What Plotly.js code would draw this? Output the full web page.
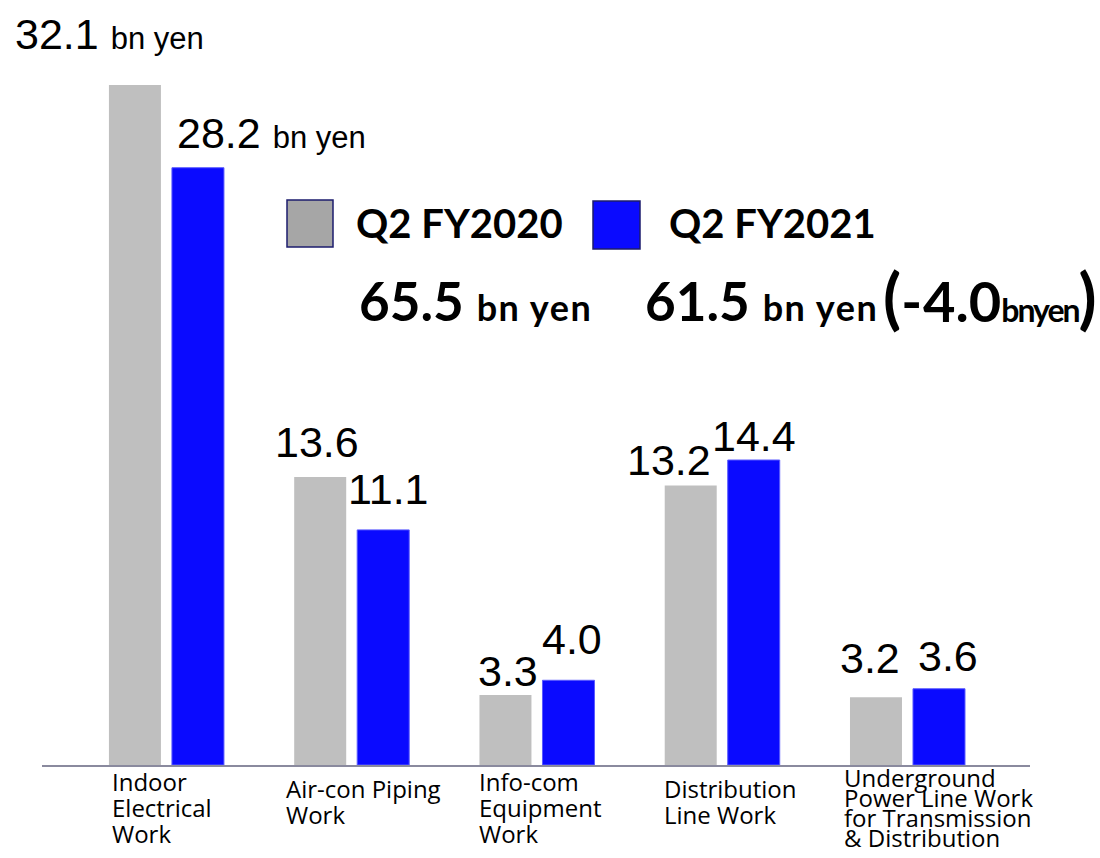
<!DOCTYPE html>
<html>
<head>
<meta charset="utf-8">
<script src="https://cdn.plot.ly/plotly-3.0.1.min.js"></script>
<style>
  html, body { margin: 0; padding: 0; background: #ffffff; }
  #chart { width: 1100px; height: 858px; }
</style>
</head>
<body>
<div id="chart"></div>
<script>
// ---------------- data ----------------
const categories = [
  "Indoor<br>Electrical<br>Work",
  "Air-con Piping<br>Work",
  "Info-com<br>Equipment<br>Work",
  "Distribution<br>Line Work",
  "Underground<br>Power Line Work<br>for Transmission<br>& Distribution"
];
const seriesNames = ["Q2 FY2020", "Q2 FY2021"];
const fy2020 = [32.1, 13.6, 3.3, 13.2, 3.2];
const fy2021 = [28.2, 11.1, 4.0, 14.4, 3.6];
const totals = [65.5, 61.5];
const totalChange = -4.0;
const unitText = "bn yen";

// ---------------- layout geometry ----------------
const PLOT_L = 42, PLOT_R = 1030, PLOT_B = 765, PLOT_T = 0;
const pxX = px => (px - PLOT_L) / (PLOT_R - PLOT_L);
const pxY = py => (PLOT_B - py) / (PLOT_B - PLOT_T);

const BAR_W = 0.2807;
const OFF_GRAY = -0.3077;
const OFF_BLUE = 0.0324;
const idx = categories.map((_, i) => i);

const GRAY = "#BFBFBF";
const BLUE = "#0A0AFF";

const traces = [
  {
    type: "bar", name: seriesNames[0], x: idx, y: fy2020,
    width: BAR_W, offset: OFF_GRAY,
    marker: { color: GRAY, line: { width: 0 } },
    hoverinfo: "skip"
  },
  {
    type: "bar", name: seriesNames[1], x: idx, y: fy2021,
    width: BAR_W, offset: OFF_BLUE,
    marker: { color: BLUE, line: { width: 1, color: "#5a5aff" } },
    hoverinfo: "skip"
  }
];

const annotations = [];

// value labels
const NUM_FONT = "Liberation Sans, Arial, sans-serif";
const NUM_SIZE = 43, UNIT_SIZE = 31;
const NUM_DESC = 0.212 * NUM_SIZE + 2;
const labelStyle = [
  { anchor: ["left", "center", "center", "center", "center"],
    xshift: [-121, -3, 3, -22, -6],
    dy: [37, 21, 10, 12, 25] },
  { anchor: ["left", "center", "center", "center", "center"],
    xshift: [-22, 5.5, 3.5, 0.5, 9.5],
    dy: [21, 27, 27, 10, 19] }
];
[fy2020, fy2021].forEach((vals, s) => {
  const center = (s === 0 ? OFF_GRAY : OFF_BLUE) + BAR_W / 2;
  vals.forEach((v, i) => {
    const st = labelStyle[s];
    let txt = v.toFixed(1);
    if (i === 0) {
      txt = '<span style="font-size:' + NUM_SIZE + 'px">' + v.toFixed(1) + ' </span>' +
            '<span style="font-size:' + UNIT_SIZE + 'px">' + unitText + '</span>';
    }
    annotations.push({
      xref: "x", yref: "y", x: i + center, y: v,
      xanchor: st.anchor[i], yanchor: "bottom",
      xshift: st.xshift[i], yshift: st.dy[i] - NUM_DESC,
      text: txt, showarrow: false, borderpad: 0,
      font: { family: NUM_FONT, size: NUM_SIZE, color: "#000000" }
    });
  });
});

// category labels (one annotation per line to control leading)
const CAT_FONT = "Open Sans, sans-serif";
const CAT_SIZE = 24;
const CAT_DESC = 0.293 * CAT_SIZE;
const catLeft = [112, 286, 479, 664, 844];
const catBase = [792, 799, 792, 799, 788];
const catLead = [26, 26, 26, 26, 20];
categories.forEach((c, i) => {
  c.split("<br>").forEach((line, k) => {
    const base = catBase[i] + k * catLead[i];
    annotations.push({
      xref: "paper", yref: "paper",
      x: pxX(catLeft[i] - 1), y: pxY(base + CAT_DESC),
      xanchor: "left", yanchor: "bottom",
      text: line, showarrow: false, borderpad: 0,
      font: { family: CAT_FONT, size: CAT_SIZE, color: "#000000" }
    });
  });
});

// legend texts
const LEG_FONT = "Lato, sans-serif";
const LEG_SIZE = 40;
const legLeft = [355, 668];
legLeft.forEach((lx, s) => {
  annotations.push({
    xref: "paper", yref: "paper", x: pxX(lx), y: pxY(239 + 0.213 * LEG_SIZE),
    xanchor: "left", yanchor: "bottom",
    text: "<b>" + seriesNames[s] + "</b>", showarrow: false, borderpad: 0,
    font: { family: LEG_FONT, size: LEG_SIZE, color: "#000000" }
  });
});

// totals
const TOT_SIZE = 53, TOT_UNIT = 36;
const totLeft = [358, 644];
totals.forEach((t, s) => {
  annotations.push({
    xref: "paper", yref: "paper", x: pxX(totLeft[s]), y: pxY(322 + 0.213 * TOT_SIZE),
    xanchor: "left", yanchor: "bottom",
    text: '<b><span style="font-size:' + TOT_SIZE + 'px">' + t.toFixed(1) + ' </span>' +
          '<span style="font-size:' + TOT_UNIT + 'px;letter-spacing:1.5px">' + unitText + '</span></b>',
    showarrow: false, borderpad: 0,
    font: { family: LEG_FONT, size: TOT_SIZE, color: "#000000" }
  });
});
// change vs previous year
const PAREN_SIZE = 66, CHG_SIZE = 56, CHG_UNIT = 32;
annotations.push({
  xref: "paper", yref: "paper", x: pxX(1098), y: pxY(323 + 0.213 * PAREN_SIZE),
  xanchor: "right", yanchor: "bottom",
  text: '<b><span style="font-size:' + PAREN_SIZE + 'px">(</span>' +
        '<span style="font-size:' + CHG_SIZE + 'px;letter-spacing:1px">' + (totalChange < 0 ? '-' : '+') + '</span>' +
        '<span style="font-size:' + CHG_SIZE + 'px">' + Math.abs(totalChange).toFixed(1) + '</span>' +
        '<span style="font-size:' + CHG_UNIT + 'px;letter-spacing:-2px">' + unitText.replace(" ", "") + '</span>' +
        '<span style="font-size:' + PAREN_SIZE + 'px">)</span></b>',
  showarrow: false, borderpad: 0,
  font: { family: LEG_FONT, size: PAREN_SIZE, color: "#000000" }
});

// legend swatches
const shapes = [
  { type: "rect", xref: "paper", yref: "paper",
    x0: pxX(287), x1: pxX(333), y0: pxY(247), y1: pxY(200),
    fillcolor: "#A6A6A6", line: { color: "#1c1c6e", width: 1.5 } },
  { type: "rect", xref: "paper", yref: "paper",
    x0: pxX(593), x1: pxX(640), y0: pxY(249), y1: pxY(201),
    fillcolor: BLUE, line: { color: "#1c1c6e", width: 1.5 } }
];

const layout = {
  width: 1100, height: 858,
  margin: { l: PLOT_L, r: 1100 - PLOT_R, t: PLOT_T, b: 858 - PLOT_B, pad: 0 },
  paper_bgcolor: "#ffffff", plot_bgcolor: "#ffffff",
  barmode: "overlay",
  showlegend: false,
  hovermode: false,
  xaxis: {
    range: [-0.669, 4.664], showgrid: false, zeroline: false,
    showticklabels: false, ticks: "", fixedrange: true,
    showline: true, linecolor: "#8a8a9e", linewidth: 2
  },
  yaxis: {
    range: [0, 765 / 21.18], visible: false, showgrid: false, zeroline: false, fixedrange: true
  },
  annotations: annotations,
  shapes: shapes
};

Plotly.newPlot("chart", traces, layout, { displayModeBar: false, staticPlot: true });
</script>
</body>
</html>
